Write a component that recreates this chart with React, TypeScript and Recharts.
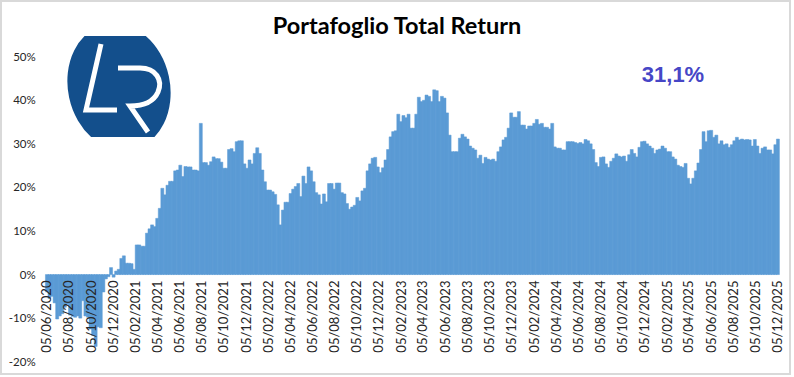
import React from 'react';
import { BarChart, Bar, XAxis, YAxis } from 'recharts';

// weekly total return (%)
const r2020 = [
  -4.0, -5.5, -5.0, -6.5, -10.2, -9.5, -9.0, -7.5, -6.8, -9.3, -9.6, -9.8, -9.5, -10.0, -6.0,
  -9.5, -9.8, -12.5, -14.0, -16.5, -12.0, -12.2, -4.0, -1.0, -0.5, 1.6, -0.6, 0.8, 1.2, 3.7,
];
const r2021 = [
  4.3, 2.6, 2.6, 2.5, 1.2, 6.8, 6.8, 6.5, 6.5, 9.5, 10.5, 11.4, 11.0, 12.9, 15.2, 19.8, 18.3,
  20.5, 21.4, 21.4, 23.8, 24.0, 25.1, 22.5, 24.8, 24.7, 24.7, 24.0, 24.0, 23.8, 34.7, 25.7, 25.7,
  25.1, 25.9, 27.0, 26.6, 26.6, 25.8, 24.4, 24.4, 28.7, 28.9, 28.2, 30.5, 30.7, 30.7, 25.4, 24.4,
  26.3, 25.4, 27.8,
];
const r2022 = [
  29.1, 27.8, 24.0, 21.3, 19.4, 19.4, 19.0, 18.4, 16.0, 11.4, 14.8, 16.6, 16.6, 18.6, 19.6, 20.2,
  20.9, 17.9, 22.6, 20.9, 24.7, 23.8, 21.3, 18.8, 18.3, 16.2, 18.5, 16.7, 20.9, 20.9, 19.6, 21.0,
  21.0, 18.8, 18.5, 16.3, 15.0, 15.5, 15.9, 17.7, 16.9, 19.2, 19.8, 23.8, 25.4, 26.7, 26.9, 24.7,
  23.4, 24.5, 26.3, 28.7,
];
const r2023 = [
  31.6, 32.8, 33.0, 36.8, 35.1, 36.5, 36.0, 36.8, 33.6, 33.6, 36.8, 40.7, 39.7, 40.0, 41.2, 40.9,
  39.7, 42.4, 42.2, 39.7, 40.9, 40.5, 37.1, 32.0, 28.2, 28.2, 28.2, 31.3, 32.2, 31.6, 31.1, 29.5,
  29.0, 28.6, 26.7, 27.4, 25.5, 26.9, 26.5, 26.3, 26.5, 26.0, 28.2, 29.3, 30.9, 31.5, 33.6, 37.1,
  36.1, 36.1, 37.4, 34.3,
];
const r2024 = [
  34.3, 33.4, 34.1, 34.1, 34.7, 35.6, 34.5, 34.7, 33.8, 33.8, 33.4, 34.7, 29.3, 29.0, 29.0, 28.6,
  28.6, 30.5, 30.5, 30.5, 30.3, 30.1, 30.3, 30.0, 31.0, 30.7, 30.0, 28.7, 25.7, 24.8, 26.9, 27.0,
  25.4, 24.6, 26.0, 26.7, 27.7, 27.2, 27.0, 27.2, 26.0, 27.5, 28.7, 27.8, 27.0, 29.2, 30.5, 30.6,
  30.0, 29.5, 29.0, 27.8,
];
const r2025 = [
  28.6, 28.8, 29.5, 29.0, 28.2, 28.2, 27.0, 26.5, 25.1, 24.8, 24.6, 25.5, 22.1, 20.8, 22.1, 23.8,
  25.6, 28.7, 32.8, 30.5, 33.0, 33.1, 31.5, 32.0, 30.0, 30.7, 29.8, 30.0, 29.2, 29.8, 30.7, 31.5,
  30.9, 31.1, 30.9, 31.0, 30.9, 29.5, 31.0, 29.5, 27.8, 29.0, 29.3, 28.6, 28.6, 27.7, 29.8, 31.1,
];

const tickLabels = [
  '05/06/2020', '05/08/2020', '05/10/2020', '05/12/2020', '05/02/2021', '05/04/2021',
  '05/06/2021', '05/08/2021', '05/10/2021', '05/12/2021', '05/02/2022', '05/04/2022',
  '05/06/2022', '05/08/2022', '05/10/2022', '05/12/2022', '05/02/2023', '05/04/2023',
  '05/06/2023', '05/08/2023', '05/10/2023', '05/12/2023', '05/02/2024', '05/04/2024',
  '05/06/2024', '05/08/2024', '05/10/2024', '05/12/2024', '05/02/2025', '05/04/2025',
  '05/06/2025', '05/08/2025', '05/10/2025', '05/12/2025',
];
const yTicks = [-20, -10, 0, 10, 20, 30, 40, 50];
const title = 'Portafoglio Total Return';
const lastLabel = '31,1%';

const returns = [...r2020, ...r2021, ...r2022, ...r2023, ...r2024, ...r2025];
const data = returns.map((v, i) => ({ i, v }));

const W = 794;
const H = 377;
const margin = { top: 56.7, right: 16.3, bottom: 14.3, left: 0 };
const plotH = H - margin.top - margin.bottom - 1;
const zeroY = margin.top + (plotH * 50) / 70;

const toDays = (s: string) => {
  const [d, m, y] = s.split('/').map(Number);
  return Date.UTC(y, m - 1, d) / 86400000;
};
const d0 = toDays(tickLabels[0]);
const d1 = toDays(tickLabels[tickLabels.length - 1]);
const tickPos = tickLabels.map((l) => ((toDays(l) - d0) / (d1 - d0)) * (returns.length - 1));

const DateTick = (props: any) => {
  const { x, payload } = props;
  let k = 0;
  tickPos.forEach((p, j) => {
    if (Math.abs(p - payload.value) < Math.abs(tickPos[k] - payload.value)) k = j;
  });
  const py = zeroY + 6;
  return (
    <text
      x={x}
      y={py}
      transform={`rotate(-90 ${x} ${py})`}
      textAnchor="end"
      dy="0.35em"
      fontSize={13}
      fontFamily="Lato"
      fill="#262626"
    >
      {tickLabels[k]}
    </text>
  );
};

export default function App() {
  return (
    <div style={{ position: 'absolute', left: 0, top: 0, width: W, height: H, background: '#fff' }}>
      <BarChart
        width={W}
        height={H}
        data={data}
        margin={margin}
        barCategoryGap={0}
        barGap={0}
      >
        <XAxis
          type="number"
          dataKey="i"
          domain={[0, returns.length - 1]}
          ticks={tickPos}
          interval={0}
          tick={<DateTick />}
          axisLine={false}
          tickLine={false}
          height={1}
        />
        <YAxis
          domain={[-20, 50]}
          ticks={yTicks}
          interval={0}
          tickFormatter={(v) => `${v}%`}
          axisLine={false}
          tickLine={false}
          tickSize={0}
          tickMargin={11}
          width={46.7}
          tick={{ fontSize: 11.5, fill: '#262626', fontFamily: 'Lato' }}
        />
        <Bar dataKey="v" fill="#5B9BD5" stroke="#5B9BD5" strokeWidth={0.5} isAnimationActive={false} />
      </BarChart>

      <svg
        width={W}
        height={H}
        style={{ position: 'absolute', left: 0, top: 0, pointerEvents: 'none' }}
      >
        <rect x={1} y={1} width={789} height={373} fill="none" stroke="#d9d9d9" strokeWidth={2} />
        <text x={397} y={34} textAnchor="middle" fontFamily="Lato" fontWeight="bold" fontSize={23.5} fill="#000">
          {title}
        </text>
        <text x={673} y={81.7} textAnchor="middle" fontFamily="Liberation Sans" fontWeight="bold" fontSize={22} fill="#4646C6">
          {lastLabel}
        </text>

        {/* logo */}
        <defs>
          <clipPath id="logoClip">
            <rect x={55} y={36} width={130} height={101} />
          </clipPath>
        </defs>
        <g clipPath="url(#logoClip)">
          <ellipse cx={119} cy={87} rx={51} ry={64} transform="rotate(-12 119 87)" fill="#134F8C" />
        </g>
        <path d="M 101 44 L 86 110 L 117 110" fill="none" stroke="#fff" strokeWidth={5} />
        <path
          d="M 118 68 L 140 68 C 156 68 163 80 158 92 C 154 101 144 106 130 106 L 148 132"
          fill="none"
          stroke="#fff"
          strokeWidth={5}
        />
      </svg>
    </div>
  );
}
